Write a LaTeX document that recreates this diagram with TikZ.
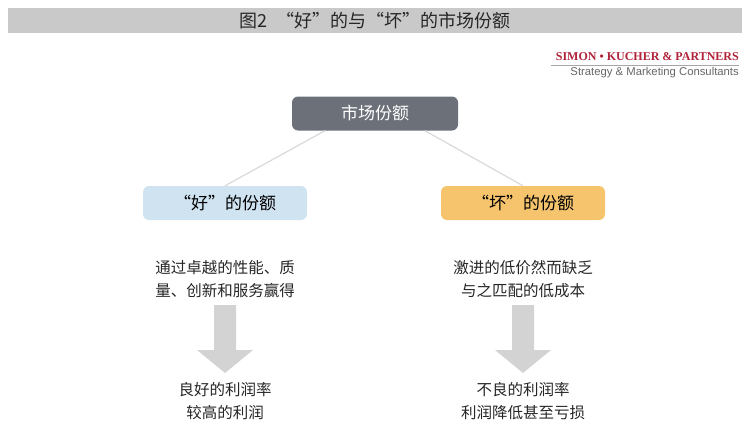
\documentclass[tikz,border=0pt]{standalone}
\usepackage{fontspec}
\setmainfont{Liberation Sans}
\newfontfamily\cjk{Noto Sans CJK SC}
\definecolor{barGray}{HTML}{C9C9C9}
\definecolor{topGray}{HTML}{6B7079}
\definecolor{goodBlue}{HTML}{CFE3F1}
\definecolor{badOrange}{HTML}{F5C46D}
\definecolor{skRed}{HTML}{B0243A}
\definecolor{arrowGray}{HTML}{D3D3D3}
\tikzset{
  box/.style={rounded corners=6pt, minimum width=164pt, minimum height=34pt, font=\cjk\fontsize{17}{17}\selectfont},
  desc/.style={align=center, font=\cjk\fontsize{15.5}{23}\selectfont, text=black!85},
}
% big gray down arrow centred at x
\newcommand{\bigdownarrow}[1]{%
  \fill[arrowGray] (#1-11,305) -- (#1+11,305) -- (#1+11,350) -- (#1+28,350)
    -- (#1,373) -- (#1-28,350) -- (#1-11,350) -- cycle;}
\begin{document}
\begin{tikzpicture}[x=1pt,y=-1pt]
\useasboundingbox (0,0) rectangle (750,431);
\fill[barGray] (8,8) rectangle (742,33);
\node[font=\cjk\fontsize{18}{18}\selectfont, text=black!85] (title) at (375,20.5) {图2\ \ “好”的与“坏”的市场份额};
\node[anchor=east, text=skRed, font=\fontspec{Liberation Serif}\bfseries\fontsize{12}{12}\selectfont, inner sep=0] (sk) at (739,57) {SIMON • KUCHER \& PARTNERS};
\node[anchor=east, text=black!60, font=\fontsize{11.3}{11.3}\selectfont, inner sep=0] (tag) at (739,73) {Strategy \& Marketing Consultants};
\draw[black!35, line width=0.5pt] (551,65) -- (739,65);
\node[box, fill=topGray, text=white, minimum width=166pt] (share) at (375,113.5) {市场份额};
\node[box, fill=goodBlue] (good) at (225,203) {“好”的份额};
\node[box, fill=badOrange] (bad) at (523,203) {“坏”的份额};
\draw[black!15, line width=1.2pt] (share.south) ++(-50,0) -- (good.north);
\draw[black!15, line width=1.2pt] (share.south) ++(50,0) -- (bad.north);
\node[desc] (goodtxt) at (225,279.5) {通过卓越的性能、质\\量、创新和服务赢得};
\node[desc] (badtxt) at (523,279.5) {激进的低价然而缺乏\\与之匹配的低成本};
\bigdownarrow{225}
\bigdownarrow{523}
\node[desc] (goodres) at (225,401.5) {良好的利润率\\较高的利润};
\node[desc] (badres) at (523,401.5) {不良的利润率\\利润降低甚至亏损};
\end{tikzpicture}
\end{document}
